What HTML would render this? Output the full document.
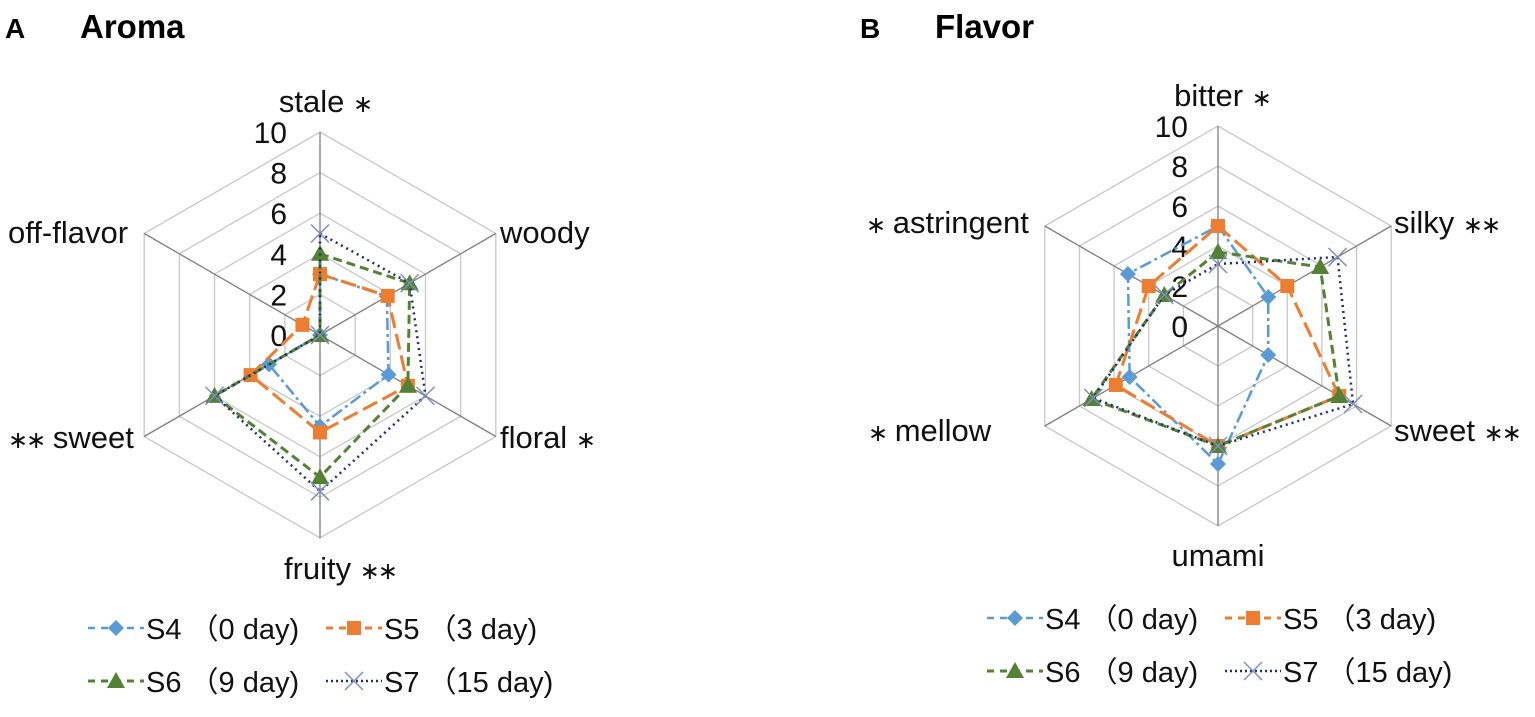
<!DOCTYPE html>
<html><head><meta charset="utf-8">
<style>
body{margin:0;background:#fff;}
svg{display:block;font-family:"Liberation Sans","Noto Sans CJK SC",sans-serif;}
</style></head>
<body>
<svg id="s" width="1535" height="717" viewBox="0 0 1535 717">
<text x="5" y="38" font-size="28" font-weight="bold">A</text>
<text x="80" y="38" font-size="33" font-weight="bold">Aroma</text>
<text x="860" y="38" font-size="28" font-weight="bold">B</text>
<text x="935" y="38" font-size="33" font-weight="bold">Flavor</text>
</svg>
<script>
const aromaAxes=["stale ∗","woody","floral ∗","fruity ∗∗","∗∗ sweet","off-flavor"];
const flavorAxes=["bitter ∗","silky ∗∗","sweet ∗∗","umami","∗ mellow","∗ astringent"];
const tickLabels=[0,2,4,6,8,10];
const seriesNames=["S4 （0 day)","S5 （3 day)","S6 （9 day)","S7 （15 day)"];
const aromaS4=[3.0,3.8,3.9,4.5,2.9,0];
const aromaS5=[3.0,3.85,5.0,4.8,3.95,1.0];
const aromaS6=[4.0,5.1,5.0,7.0,6.0,0];
const aromaS7=[5.0,5.1,6.0,7.7,6.0,0];
const flavorS4=[5.0,2.9,2.9,6.9,5.1,5.2];
const flavorS5=[5.0,4.0,7.0,6.0,5.9,4.0];
const flavorS6=[3.7,5.9,7.0,6.0,7.3,3.1];
const flavorS7=[3.1,6.9,7.8,6.0,7.2,3.1];

const NS="http://www.w3.org/2000/svg";
const svg=document.getElementById('s');
const styles=[
 {c:"#5b9bd5",dash:"12 4 3 4",w:2.5,m:"diamond"},
 {c:"#ed7d31",dash:"16 6",w:3,m:"square"},
 {c:"#548235",dash:"9 5",w:3,m:"triangle"},
 {c:"#1f2f6e",dash:"2 4",w:2.5,m:"x"}
];
function mk(tag,attrs,parent){const e=document.createElementNS(NS,tag);for(const k in attrs)e.setAttribute(k,attrs[k]);(parent||svg).appendChild(e);return e;}
function marker(g,type,x,y,color){
 let e;
 if(type==="diamond")e=mk('polygon',{points:`${x},${y-8} ${x+8},${y} ${x},${y+8} ${x-8},${y}`,fill:color},g);
 else if(type==="square")e=mk('rect',{x:x-7,y:y-7,width:14,height:14,fill:color},g);
 else if(type==="triangle")e=mk('polygon',{points:`${x},${y-9} ${x+9},${y+7} ${x-9},${y+7}`,fill:color},g);
 else e=mk('path',{d:`M${x-9} ${y-9}L${x+9} ${y+9}M${x+9} ${y-9}L${x-9} ${y+9}`,stroke:"#7f8fc0","stroke-width":1.5,fill:"none"},g);
 return e;
}
function radar(cx,cy,R,axes,series,labelPos,tickX,prefix){
 const ang=i=>-Math.PI/2+i*Math.PI/3;
 const pt=(i,v)=>[cx+R*v/10*Math.cos(ang(i)),cy+R*v/10*Math.sin(ang(i))];
 const grid=mk('g',{});
 
 
 tickLabels.forEach(t=>{ if(t===0)return;
  const p=axes.map((_,i)=>pt(i,t).join(',')).join(' ');
  mk('polygon',{points:p,fill:"none",stroke:"#c8c8c8","stroke-width":1.3},grid);});
 axes.forEach((_,i)=>{const [x,y]=pt(i,10);mk('line',{x1:cx,y1:cy,x2:x,y2:y,stroke:"#7f7f7f","stroke-width":1.3},grid);});
 tickLabels.forEach(t=>{const e=mk('text',{x:tickX,y:cy-R*t/10+11,"font-size":30,"text-anchor":"end",fill:"#111"});e.textContent=t;
  
  });
 axes.forEach((a,i)=>{const lp=labelPos[i];const e=mk('text',{x:lp[0],y:lp[1],"font-size":31,"text-anchor":lp[2],fill:"#111"});
  a.split(/(∗+)/).forEach(part=>{if(!part)return;const ts=mk('tspan',{},e);if(part[0]==='∗'){ts.setAttribute('font-size','24');ts.setAttribute('letter-spacing','-2');}ts.textContent=part;});
  
  });
 series.forEach((vals,s)=>{const st=styles[s];const g=mk('g',{});
  
  
  const p=vals.map((v,i)=>pt(i,v).join(',')).join(' ');
  mk('polygon',{points:p,fill:"none",stroke:st.c,"stroke-width":st.w,"stroke-dasharray":st.dash},g);
  vals.forEach((v,i)=>{const [x,y]=pt(i,v);marker(g,st.m,x,y,st.c);});
 });
}
function legend(x0,y0,prefix){
 seriesNames.forEach((n,s)=>{const st=styles[s];const x=x0+(s%2)*238,y=y0+Math.floor(s/2)*53;
  const g=mk('g',{});
  
  
  mk('line',{x1:x,y1:y,x2:x+56,y2:y,stroke:st.c,"stroke-width":st.w,"stroke-dasharray":s===3?"2 3":"7 6"},g);
  marker(g,st.m,x+28,y,st.c);
  const t=mk('text',{x:x+58,y:y+11,"font-size":29,fill:"#111"},g);t.textContent=n;});
}
radar(320,335,203,aromaAxes,[aromaS4,aromaS5,aromaS6,aromaS7],
 [[325,112,"middle"],[500,243,"start"],[500,448,"start"],[340,579,"middle"],[8,448,"start"],[8,243,"start"]],287,"aroma");
radar(1218,326,200,flavorAxes,[flavorS4,flavorS5,flavorS6,flavorS7],
 [[1222,106,"middle"],[1394,233,"start"],[1394,441,"start"],[1218,566,"middle"],[868,441,"start"],[866,233,"start"]],1188,"flavor");
legend(88,628,"aroma");
legend(987,618,"flavor");
</script>
</body></html>
